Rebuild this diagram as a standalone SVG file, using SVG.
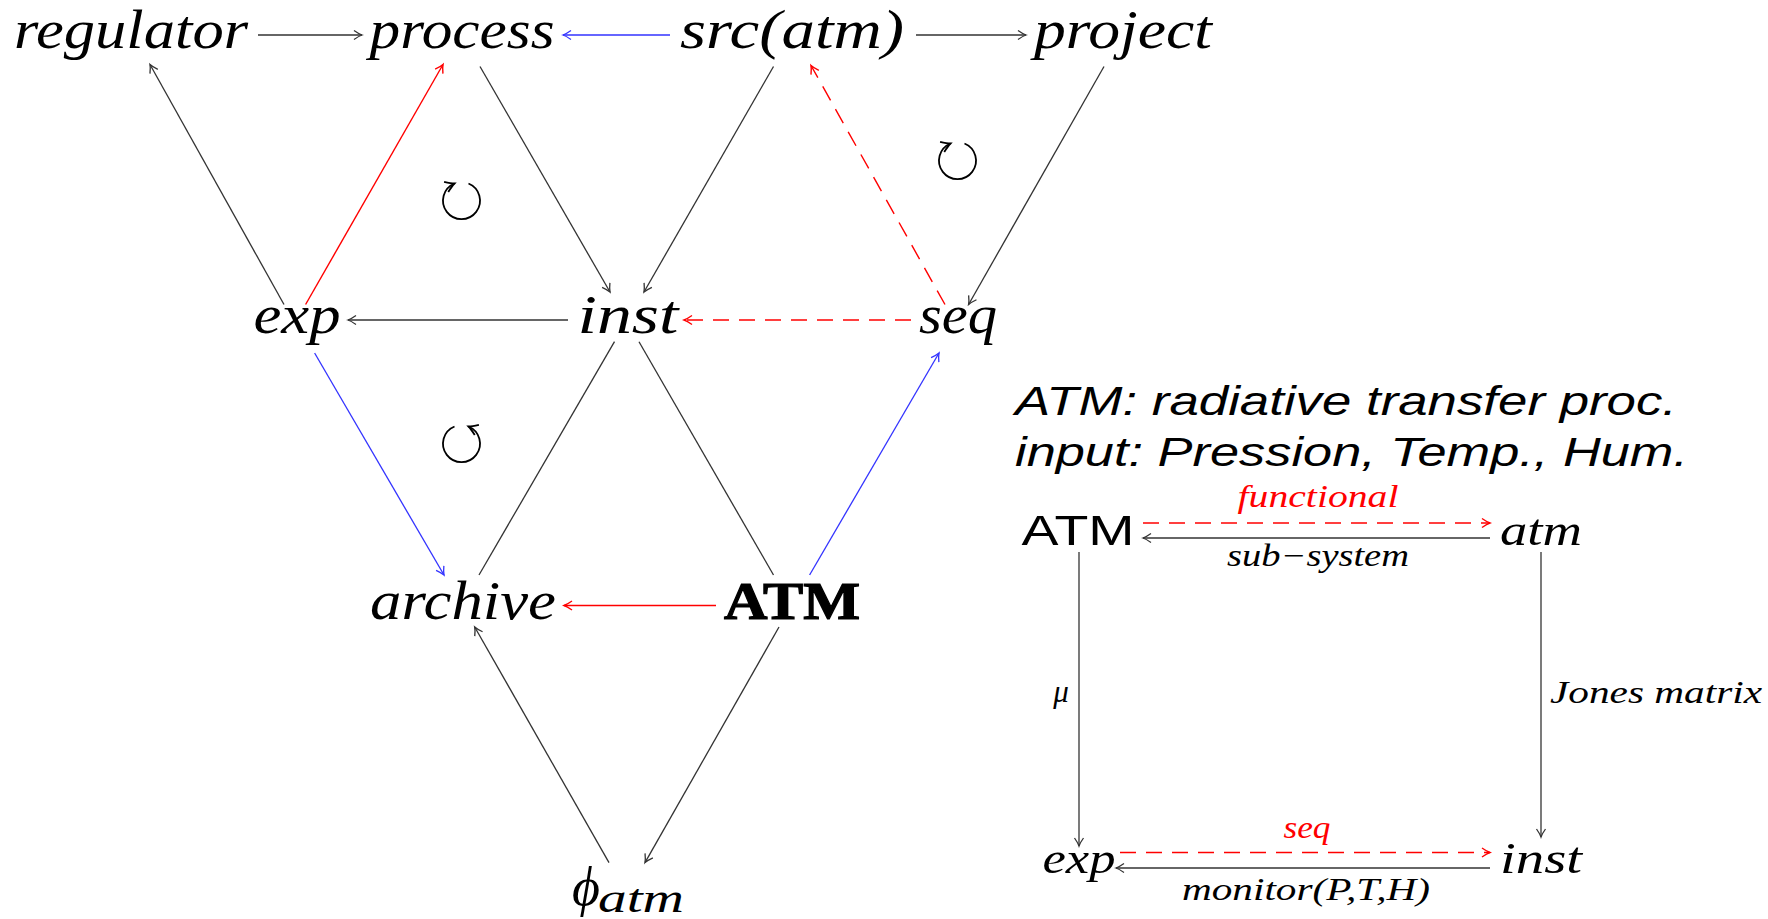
<svg xmlns="http://www.w3.org/2000/svg" width="1768" height="919" viewBox="0 0 1768 919">
<style>
.m{font-family:"Liberation Serif","DejaVu Serif",serif;font-style:italic;fill:#000}
.big{font-size:54px}
.med{font-size:44px}
.sm{font-size:31px}
.sans{font-family:"Liberation Sans","DejaVu Sans",sans-serif;fill:#000}
.k{stroke:#333;stroke-width:1.3;fill:none}
.r{stroke:#ff0000;stroke-width:1.4;fill:none}
.b{stroke:#3333ff;stroke-width:1.3;fill:none}
.d{stroke-dasharray:16 10}
.c{stroke:#000;stroke-width:1.8;fill:none}
</style>
<defs>
<marker id="ak" viewBox="-10 -6 12 12" refX="0" refY="0" markerWidth="12" markerHeight="12" markerUnits="userSpaceOnUse" orient="auto"><path d="M-8,-4.5 Q-3,-1 0,0 Q-3,1 -8,4.5" fill="none" stroke="#333" stroke-width="1.3"/></marker>
<marker id="ar" viewBox="-10 -6 12 12" refX="0" refY="0" markerWidth="12" markerHeight="12" markerUnits="userSpaceOnUse" orient="auto"><path d="M-8,-4.5 Q-3,-1 0,0 Q-3,1 -8,4.5" fill="none" stroke="#ff0000" stroke-width="1.4"/></marker>
<marker id="ab" viewBox="-10 -6 12 12" refX="0" refY="0" markerWidth="12" markerHeight="12" markerUnits="userSpaceOnUse" orient="auto"><path d="M-8,-4.5 Q-3,-1 0,0 Q-3,1 -8,4.5" fill="none" stroke="#3333ff" stroke-width="1.3"/></marker>
<marker id="ac" viewBox="-12 -8 16 16" refX="0" refY="0" markerWidth="16" markerHeight="16" markerUnits="userSpaceOnUse" orient="auto"><path d="M-9,-5.5 Q-3,-1.2 0,0 Q-3,1.2 -9,5.5" fill="none" stroke="#000" stroke-width="1.8"/></marker>
</defs>
<rect width="1768" height="919" fill="#fff"/>

<g id="connectors">
<line class="k" x1="258" y1="35" x2="362" y2="35" marker-end="url(#ak)"/>
<line class="b" x1="670" y1="35" x2="563" y2="35" marker-end="url(#ab)"/>
<line class="k" x1="916" y1="35" x2="1026" y2="35" marker-end="url(#ak)"/>
<line class="k" x1="284" y1="304.5" x2="150" y2="64.5" marker-end="url(#ak)"/>
<line class="r" x1="305.6" y1="304.5" x2="443" y2="64.5" marker-end="url(#ar)"/>
<line class="k" x1="480" y1="66.5" x2="610" y2="292" marker-end="url(#ak)"/>
<line class="k" x1="773.5" y1="66.5" x2="644" y2="292" marker-end="url(#ak)"/>
<line class="r d" x1="945" y1="304.5" x2="811" y2="65.5" marker-end="url(#ar)"/>
<line class="k" x1="1104" y1="66.5" x2="968.6" y2="304.5" marker-end="url(#ak)"/>
<line class="k" x1="568" y1="320" x2="348" y2="320" marker-end="url(#ak)"/>
<line class="r d" x1="911" y1="320" x2="684" y2="320" marker-end="url(#ar)"/>
<line class="b" x1="314.6" y1="353" x2="444" y2="575" marker-end="url(#ab)"/>
<line class="k" x1="614.5" y1="341.7" x2="479" y2="575"/>
<line class="k" x1="639" y1="341.7" x2="773.5" y2="575"/>
<line class="b" x1="809.6" y1="575" x2="939" y2="353" marker-end="url(#ab)"/>
<line class="r" x1="716" y1="605.5" x2="564" y2="605.5" marker-end="url(#ar)"/>
<line class="k" x1="609" y1="862.6" x2="474.7" y2="627" marker-end="url(#ak)"/>
<line class="k" x1="779" y1="627" x2="645" y2="862.6" marker-end="url(#ak)"/>
<path class="c" d="M468.5,183.5 A18.5,18.5 0 1 1 454.5,183.5" marker-end="url(#ac)"/>
<path class="c" d="M964.5,143.5 A18.5,18.5 0 1 1 950.5,143.5" marker-end="url(#ac)"/>
<path class="c" d="M454.5,426.5 A18.5,18.5 0 1 0 468.5,426.5" marker-end="url(#ac)"/>
<line class="r d" x1="1143" y1="523" x2="1490" y2="523" marker-end="url(#ar)"/>
<line class="k" x1="1490" y1="538" x2="1143" y2="538" marker-end="url(#ak)"/>
<line class="k" x1="1079" y1="552" x2="1079" y2="846" marker-end="url(#ak)"/>
<line class="k" x1="1541" y1="552" x2="1541" y2="837" marker-end="url(#ak)"/>
<line class="r d" x1="1120" y1="852.5" x2="1490" y2="852.5" marker-end="url(#ar)"/>
<line class="k" x1="1490" y1="868" x2="1116" y2="868" marker-end="url(#ak)"/>
</g>

<g id="n-regulator"><text class="m big" x="131" y="48" text-anchor="middle" textLength="234" lengthAdjust="spacingAndGlyphs">regulator</text></g>
<g id="n-process"><text class="m big" x="462" y="48" text-anchor="middle" textLength="185" lengthAdjust="spacingAndGlyphs">process</text></g>
<g id="n-src"><text class="m big" x="792" y="48" text-anchor="middle" textLength="224" lengthAdjust="spacingAndGlyphs">src(atm)</text></g>
<g id="n-project"><text class="m big" x="1123" y="48" text-anchor="middle" textLength="178" lengthAdjust="spacingAndGlyphs">project</text></g>
<g id="n-exp"><text class="m big" x="297" y="333" text-anchor="middle" textLength="87" lengthAdjust="spacingAndGlyphs">exp</text></g>
<g id="n-inst"><text class="m big" x="628" y="333" text-anchor="middle" textLength="101" lengthAdjust="spacingAndGlyphs">inst</text></g>
<g id="n-seq"><text class="m big" x="958" y="333" text-anchor="middle" textLength="78" lengthAdjust="spacingAndGlyphs">seq</text></g>
<g id="n-archive"><text class="m big" x="463" y="619" text-anchor="middle" textLength="186" lengthAdjust="spacingAndGlyphs">archive</text></g>
<g id="n-ATM"><text x="792" y="619" text-anchor="middle" textLength="136" lengthAdjust="spacingAndGlyphs" style="font-family:'Liberation Serif',serif;font-weight:bold;font-size:52px;fill:#000;stroke:#000;stroke-width:1.2">ATM</text></g>
<g id="n-phi"><text class="m" x="572" y="905" style="font-size:54px">ϕ<tspan style="font-size:40px" x="598" y="912" textLength="86" lengthAdjust="spacingAndGlyphs">atm</tspan></text></g>

<g id="note">
<text class="sans" x="1015" y="415" style="font-size:41px;font-style:italic" textLength="662" lengthAdjust="spacingAndGlyphs">ATM: radiative transfer proc.</text>
<text class="sans" x="1015" y="466" style="font-size:41px;font-style:italic" textLength="673" lengthAdjust="spacingAndGlyphs">input: Pression, Temp., Hum.</text>
</g>

<g id="r-ATM"><text class="sans" x="1078" y="545" text-anchor="middle" style="font-size:43px" textLength="113" lengthAdjust="spacingAndGlyphs">ATM</text></g>
<g id="r-atm"><text class="m med" x="1541" y="545" text-anchor="middle" textLength="82" lengthAdjust="spacingAndGlyphs">atm</text></g>
<g id="r-exp"><text class="m med" x="1079" y="873" text-anchor="middle" textLength="73" lengthAdjust="spacingAndGlyphs">exp</text></g>
<g id="r-inst"><text class="m med" x="1541" y="873" text-anchor="middle" textLength="82" lengthAdjust="spacingAndGlyphs">inst</text></g>

<g id="labels">
<text class="m sm" x="1318" y="507" text-anchor="middle" textLength="161" lengthAdjust="spacingAndGlyphs" style="fill:#ff0000">functional</text>
<text class="m sm" x="1318" y="566" text-anchor="middle" textLength="182" lengthAdjust="spacingAndGlyphs">sub−system</text>
<text class="m sm" x="1061" y="702" text-anchor="middle">μ</text>
<text class="m sm" x="1656" y="703" text-anchor="middle" textLength="212" lengthAdjust="spacingAndGlyphs">Jones  matrix</text>
<text class="m sm" x="1307" y="838" text-anchor="middle" textLength="47" lengthAdjust="spacingAndGlyphs" style="fill:#ff0000">seq</text>
<text class="m sm" x="1306" y="900" text-anchor="middle" textLength="248" lengthAdjust="spacingAndGlyphs">monitor(P,T,H)</text>
</g>
</svg>
